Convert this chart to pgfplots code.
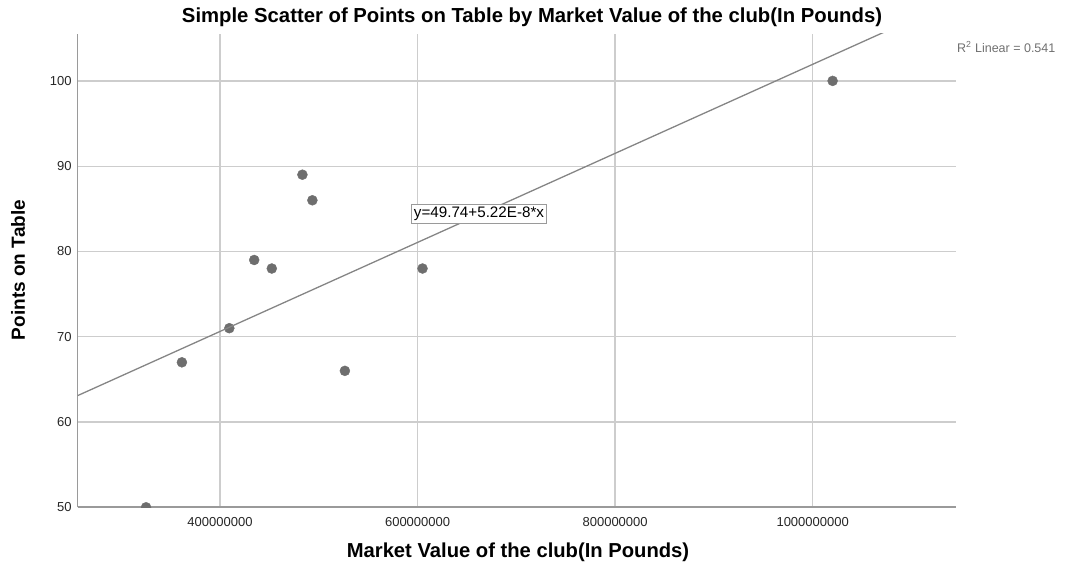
\documentclass[border=0pt]{standalone}
\usepackage{fontspec}
\setmainfont{Liberation Sans}
\usepackage{pgfplots}
\pgfplotsset{compat=1.18}
\definecolor{ptgray}{HTML}{6E6E6E}
\definecolor{linegray}{HTML}{858585}
\definecolor{gridgray}{HTML}{CDCDCD}
\definecolor{axisgray}{HTML}{9A9A9A}
\definecolor{txtgray}{HTML}{707070}
\begin{document}
\begin{tikzpicture}
\path (-77.7bp,-56.7bp) rectangle (987.3bp,507.3bp);
\begin{axis}[
  at={(0,0)}, anchor=south west,
  scale only axis, width=878bp, height=473.3bp,
  xmin=255900000, xmax=1144800000, ymin=50, ymax=105.5,
  axis x line*=bottom, axis y line*=left,
  axis line style={draw=axisgray, line width=1.6bp, -},
  xtick={400000000,600000000,800000000,1000000000},
  xticklabels={400000000,600000000,800000000,1000000000},
  ytick={50,60,70,80,90,100},
  yticklabels={50,60,70,80,90,100},
  scaled x ticks=false, scaled y ticks=false,
  major tick length=0pt,
  grid=major,
  major grid style={draw=gridgray, line width=1.3bp},
  xticklabel style={font=\fontsize{13bp}{15bp}\selectfont, text=black!85, anchor=north, inner sep=0pt, yshift=-10bp},
  yticklabel style={font=\fontsize{13bp}{15bp}\selectfont, text=black!85, anchor=east, inner sep=0pt, xshift=-6bp},
  clip marker paths=true,
]
\addplot[only marks, mark=*, mark size=5bp, color=ptgray, mark options={fill=ptgray, draw=ptgray}] coordinates {
  (325100000,50)
  (361400000,67)
  (409400000,71)
  (434600000,79)
  (452400000,78)
  (483400000,89)
  (493500000,86)
  (526400000,66)
  (605000000,78)
  (1020200000,100)
};
\addplot[color=linegray, line width=1.3bp, no marks] coordinates {
  (255900000,63.098)
  (1144800000,109.503)
};
\end{axis}
\node[font=\bfseries\fontsize{20.3bp}{23bp}\selectfont, anchor=center] at (454.3bp,490.3bp) {Simple Scatter of Points on Table by Market Value of the club(In Pounds)};
\node[font=\bfseries\fontsize{20.2bp}{23bp}\selectfont, anchor=center] at (440.3bp,-44.7bp) {Market Value of the club(In Pounds)};
\node[font=\bfseries\fontsize{19bp}{22bp}\selectfont, anchor=center, rotate=90] at (-59.7bp,237.3bp) {Points on Table};
\node[font=\fontsize{12.5bp}{14bp}\selectfont, text=txtgray, anchor=west, inner sep=0pt] at (879.3bp,460.3bp) {R\textsuperscript{2} Linear = 0.541};
\node[font=\fontsize{15.2bp}{17bp}\selectfont, draw=axisgray, fill=white, line width=1bp, inner sep=2.8bp, anchor=center] at (401.3bp,293.3bp) {y=49.74+5.22E-8*x};
\end{tikzpicture}
\end{document}
